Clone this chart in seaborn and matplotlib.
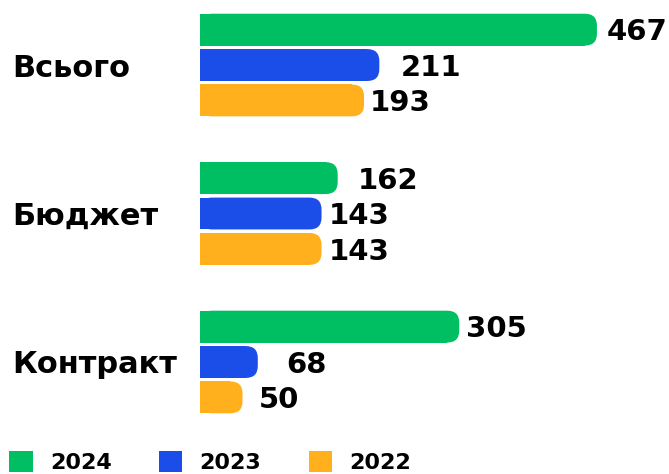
import matplotlib
matplotlib.use("Agg")
import matplotlib.pyplot as plt
import seaborn as sns
import pandas as pd
from matplotlib.patches import FancyBboxPatch, Patch

categories = ["Всього", "Бюджет", "Контракт"]
years = ["2024", "2023", "2022"]
values_2024 = [467, 162, 305]
values_2023 = [211, 143, 68]
values_2022 = [193, 143, 50]
colors = ["#00BF63", "#1B4EE9", "#FFB01C"]
# відступи підписів від кінця стовпця, px (у оригіналі нерівні)
label_pads = [[10, 20, 7], [21, 7, 28], [6, 7, 16]]

df = pd.DataFrame({
    "Категорія": categories * 3,
    "Рік": [y for y in years for _ in categories],
    "Кількість": values_2024 + values_2023 + values_2022,
})

sns.set_theme(style="white")
plt.rcParams["font.family"] = ["DejaVu Sans"]

fig = plt.figure(figsize=(6.69, 4.74), dpi=100)
ax = fig.add_axes([200 / 669, 44 / 474, 469 / 669, 430 / 474])
sns.barplot(data=df, y="Категорія", x="Кількість", hue="Рік", hue_order=years,
            order=categories, palette=colors, saturation=1, orient="h", width=0.715,
            gap=0.1, linewidth=0, legend=False, ax=ax)

ax.set_xlim(0, 469 / 0.85)
ax.set_ylim(2.458, -0.438)
fig.canvas.draw()

# масштаб px на одиницю даних
p0 = ax.transData.transform((0, 0))
p1 = ax.transData.transform((1, 1))
px_x = abs(p1[0] - p0[0])
px_y = abs(p1[1] - p0[1])
aspect = px_x / px_y
r = 12 / px_x

# закруглені праві кінці
for ci, cont in enumerate(ax.containers):
    for bi, bar in enumerate(cont):
        x, y, w, h = bar.get_x(), bar.get_y(), bar.get_width(), bar.get_height()
        bar.set_width(w - r)
        ax.add_patch(FancyBboxPatch((x, y), w, h,
                                    boxstyle=f"round,pad=0,rounding_size={r}",
                                    mutation_aspect=aspect,
                                    facecolor=bar.get_facecolor(), linewidth=0))
        ax.annotate(f"{w:.0f}", xy=(w, y + h / 2),
                    xytext=(label_pads[ci][bi] * 0.72, -2), textcoords="offset points",
                    ha="left", va="center", fontsize=21, fontweight="bold", color="black")

ax.set_yticks(range(len(categories)))
ax.set_yticklabels(categories, ha="left", fontsize=22, fontweight="bold", color="black")
ax.tick_params(axis="y", length=0, pad=188 * 0.72)
ax.set_xticks([])
ax.set_xlabel("")
ax.set_ylabel("")
sns.despine(ax=ax, left=True, bottom=True)

handles = [Patch(facecolor=c, linewidth=0) for c in colors]
fig.legend(handles, years, loc="lower left", bbox_to_anchor=(9 / 669, 1 / 474), ncol=3,
           frameon=False, prop={"size": 16, "weight": "bold"}, labelcolor="black",
           handlelength=1.06, handleheight=1.06, handletextpad=0.78, columnspacing=2.12,
           borderpad=0, borderaxespad=0)

fig.savefig("out.png", dpi=100)
